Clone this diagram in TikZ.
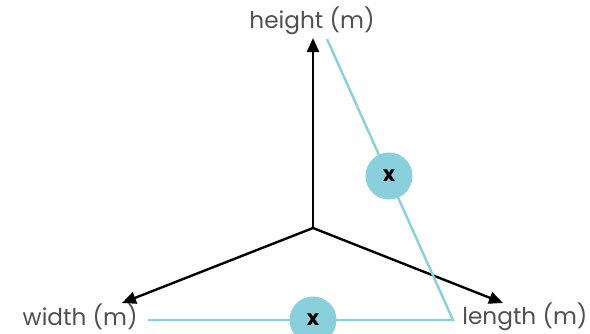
\documentclass[tikz,border=0pt]{standalone}
\usepackage{fontspec}
\setmainfont{Poppins}
\usetikzlibrary{arrows.meta, positioning}
\usepackage{xcolor}
\definecolor{dimcyan}{RGB}{138,208,220}
\definecolor{labelgray}{RGB}{80,80,80}
\tikzstyle{axis}  = [line width=1.2pt,-{Triangle[length=7pt,width=6pt]}]
\tikzstyle{guide} = [line width=1.2pt, draw=dimcyan]

\begin{document}
\begin{tikzpicture}[x=0.5pt, y=-0.5pt, font=\fontsize{11.6}{13}\selectfont]
        \tikzstyle{dim}=[text=labelgray, inner sep=0pt]
        \tikzstyle{xmark}=[circle, fill=dimcyan, minimum size=23.5pt, inner sep=0pt,
                          font=\bfseries\fontsize{10.5}{12}\selectfont]
        \useasboundingbox (0,0) rectangle (590,333);
        \coordinate (o) at (313,228);
        \coordinate (h) at (313,38);
        \coordinate (w) at (122,303);
        \coordinate (l) at (503,303);
        \node (hl) [dim] at (312,21) {height (m)};
        \node (wl) [dim, anchor=east] at (138,316.5) {width (m)};
        \node (ll) [dim, anchor=west] at (462,316.5) {length (m)};
        \draw[axis] (o)--(h);
        \draw[axis] (o)--(w);
        \draw[axis] (o)--(l);
        \coordinate (ws) at (148,320);
        \coordinate (c) at (453,320);
        \coordinate (ht) at (327,39);
        \draw[guide] (ws)--(c)--(ht);
        \node (xw) [xmark] at (313,320) {x};
        \node (xh) [xmark] at (389,176) {x};
    \end{tikzpicture}
\end{document}
